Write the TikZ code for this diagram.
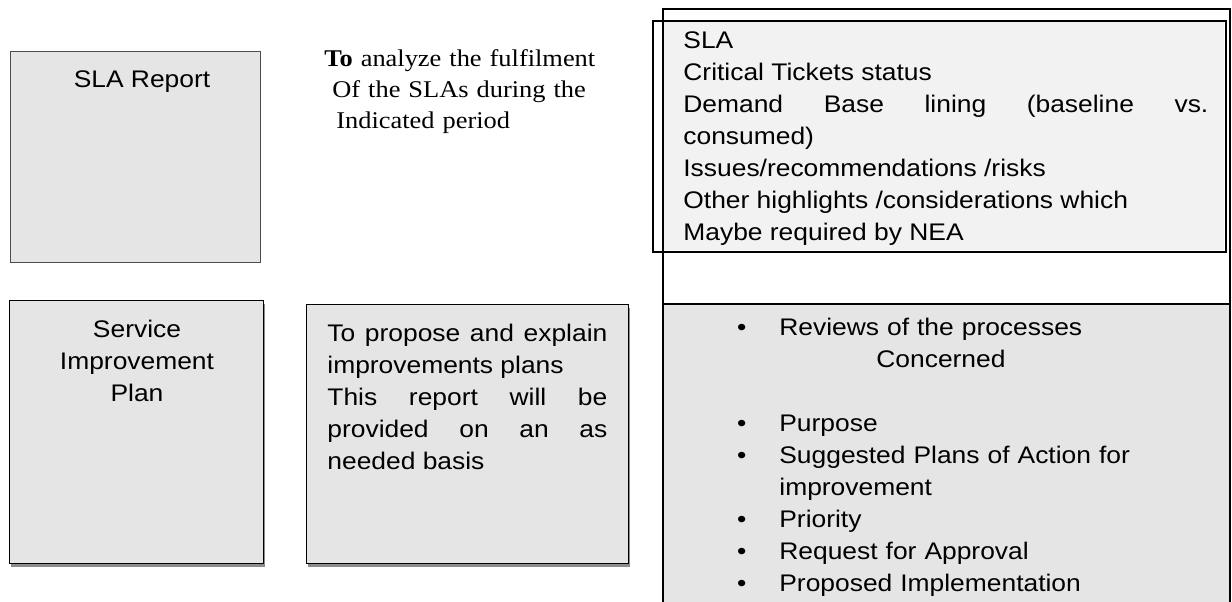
\documentclass[tikz,border=0pt]{standalone}
\usepackage{fontspec}
\setmainfont{Liberation Serif}[FakeStretch=1.1]
\setsansfont{Liberation Sans}[FakeStretch=1.1]
\usetikzlibrary{shadows}
\hyphenpenalty=10000
\exhyphenpenalty=10000
\tikzstyle{block} = [draw=black,rectangle,fill=black!10,anchor=north west,inner sep=0pt,line width=0.7pt]
\tikzstyle{shadowblock} = [block,drop shadow={shadow xshift=0.6pt,shadow yshift=-1.6pt,fill=black!45,opacity=1}]
\tikzstyle{frame} = [draw=black,rectangle,anchor=north west,inner sep=0pt,line width=1.1pt]
\tikzstyle{boxtitle} = [anchor=base,inner sep=0pt,align=center,font=\sffamily\fontsize{12}{16}\selectfont]
\tikzstyle{data} = [anchor=base west,inner sep=0pt,font=\sffamily\fontsize{12}{16}\selectfont]
\tikzstyle{note} = [anchor=base west,inner sep=0pt,align=left,font=\rmfamily\fontsize{12}{15.5}\selectfont]
\newcommand{\itembullet}{\leavevmode\llap{\textbullet\hspace{16.5pt}}}

\begin{document}
\begin{tikzpicture}[x=0.5pt,y=-0.5pt]
				\useasboundingbox (0,0) rectangle (1232,601);
				\clip (0,0) rectangle (1232,601);
				% left column
				\node (slabox) [block,draw=black!70,line width=0.5pt,minimum width=125pt,minimum height=105.5pt] at (10,51) {};
				\node (slatitle) [boxtitle] at (142,87) {SLA Report};
				\node (sipbox) [shadowblock,minimum width=127pt,minimum height=131.5pt] at (9,300) {};
				\node (siptitle) [boxtitle,text width=120pt] at (137,337) {Service\\Improvement\\Plan};
				% middle column
				\node (slanote) [note,text width=150pt] at (324,66) {\textbf{To} analyze the fulfilment\\\hspace*{4pt}Of the SLAs during the\\\hspace*{6pt}Indicated period};
				\node (propbox) [shadowblock,minimum width=161pt,minimum height=129.5pt] at (306,304) {};
				\node (propnote) [data,text width=140pt,align=justify] at (327,341) {To propose and explain\linebreak improvements plans\\ This report will be\linebreak provided on an as\linebreak needed basis};
				% right column
				\fill[black!5] (663,21) rectangle (1224,250);
				\node (slaitems) [frame,line width=0.9pt,minimum width=286.5pt,minimum height=115.5pt] at (652,20) {};
				\node (slaframe) [frame,minimum width=283.5pt,minimum height=147.5pt] at (662,8) {};
				\node (slalist) [data,text width=262.5pt,align=justify] at (683,48) {SLA\\ Critical Tickets status\\ Demand Base lining (baseline vs.\linebreak consumed)\\ Issues/recommendations /risks\\ Other highlights /considerations which\\ Maybe required by NEA};
				\node (reviewbox) [block,line width=1pt,minimum width=283.5pt,minimum height=155pt] at (662,303) {};
				\node (reviewlist) [data,text width=210pt,align=left] at (779,335) {\itembullet Reviews of the processes\\ \hspace*{48.5pt}Concerned\\[16pt] \itembullet Purpose\\ \itembullet Suggested Plans of Action for\\ improvement\\ \itembullet Priority\\ \itembullet Request for Approval\\ \itembullet Proposed Implementation};
			\end{tikzpicture}
\end{document}
